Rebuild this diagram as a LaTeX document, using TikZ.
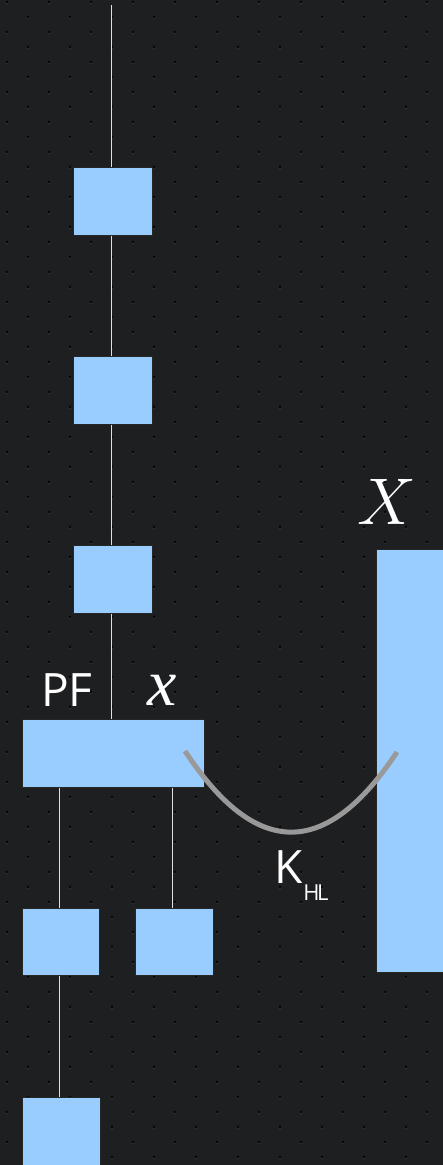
\documentclass[tikz,border=0pt]{standalone}
\usepackage{fix-cm}
\usepackage{fontspec}
\setsansfont{Open Sans}
\newfontfamily\xserif{Liberation Serif}
\usepackage{xcolor}
\usepackage{tikz}
\definecolor{boardbg}{HTML}{1E1F21}
\definecolor{holedot}{HTML}{080809}
\definecolor{holeglow}{HTML}{34363A}
\definecolor{boxblue}{HTML}{99CCFF}
\definecolor{curvegray}{HTML}{999999}

\begin{document}
\begin{tikzpicture}[x=1pt, y=-1pt, inner sep=0pt,
  blk/.style={shape=rectangle, anchor=north west, fill=boxblue, draw=black!85, line width=0.6pt},
  wire/.style={draw=white!88!black, line width=0.8pt},
  lbl/.style={text=white, font=\sffamily\fontsize{46}{48}\selectfont}]
\useasboundingbox [fill=boardbg] (0,0) rectangle (443,1165);
\foreach \k in {0,...,77} {
  \pgfmathsetmacro{\dx}{mod(\k,2)==0 ? 7 : 28}
  \foreach \i in {0,...,10} {
    \fill [holeglow] (\dx+42*\i, 2.8+15*\k) circle (1.8);
    \fill [holedot] (\dx+42*\i, 2+15*\k) circle (1.6);
  }
}

\coordinate (c0) at (111,5);
\node (n0) [blk, minimum width=79pt, minimum height=68pt, at={(73,167)}] {};
\node (n1) [blk, minimum width=79pt, minimum height=68pt, at={(73,356)}] {};
\node (n2) [blk, minimum width=79pt, minimum height=68pt, at={(73,545)}] {};
\node (n3) [blk, minimum width=182pt, minimum height=68pt, at={(22,719)}] {};
\node (n4) [blk, minimum width=77pt, minimum height=67pt, at={(22,908)}] {};
\node (n5) [blk, minimum width=78pt, minimum height=67pt, at={(135,908)}] {};
\node (n6) [blk, minimum width=78pt, minimum height=80pt, at={(22,1097)}] {};
\node (n7) [blk, minimum width=67pt, minimum height=423pt, at={(376,549)}] {};

\node (l0) [lbl, at={(67,690)}] {PF};
\node (l1) [text=white, at={(162,690)}, font=\xserif\itshape\fontsize{66}{68}\selectfont] {x};
\node (l2) [text=white, at={(387,502)}, font=\fontsize{66}{68}\selectfont] {$X$};
\node (l3) [lbl, anchor=base west, at={(274,883)}] {K\kern1pt\raisebox{-17pt}{\fontsize{22}{22}\selectfont H\kern-2.5pt L}};

\path [wire] (c0) -- (n0.north -| c0);
\path [wire] (n0.south -| c0) -- (n1.north -| c0);
\path [wire] (n1.south -| c0) -- (n2.north -| c0);
\path [wire] (n2.south -| c0) -- (n3.north -| c0);
\path [wire] (n3.south -| 59,0) -- (n4.north -| 59,0);
\path [wire] (n3.south -| 172,0) -- (n5.north -| 172,0);
\path [wire] (n4.south -| 59,0) -- (n6.north -| 59,0);

\coordinate (k0) at (185,751);
\coordinate (k1) at (397,752);
\path [draw=curvegray, line width=5pt] (k0) .. controls (256,859) and (326,859) .. (k1);
\end{tikzpicture}
\end{document}
